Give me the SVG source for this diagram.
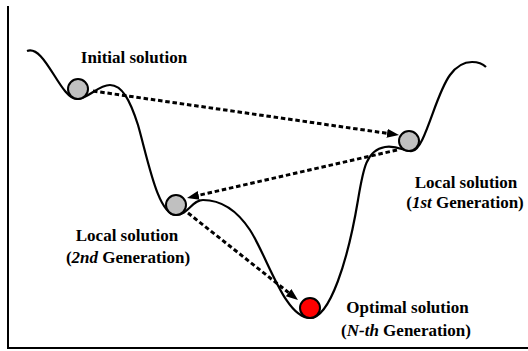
<svg xmlns="http://www.w3.org/2000/svg" width="528" height="351" viewBox="0 0 528 351">
  <style>
    .lbl { font-family: "Liberation Serif", "Times New Roman", serif; font-size: 17px; font-weight: bold; fill: #000; text-anchor: middle; }
    .it { font-style: italic; }
    .ball { stroke: #000; stroke-width: 2; }
    .gray { fill: #c0c0c0; }
    .red { fill: #ff0000; }
    .curve { fill: none; stroke: #000; stroke-width: 2.2; }
    .frame { fill: none; stroke: #000; stroke-width: 2; }
    .conn { fill: none; stroke: #000; stroke-width: 3; stroke-dasharray: 4.5 2.8; }
  </style>
  <defs>
    <marker id="ah" markerUnits="userSpaceOnUse" markerWidth="13" markerHeight="10" refX="0" refY="4.5" orient="auto">
      <path d="M0,0 L12,4.5 L0,9 Z" fill="#000"/>
    </marker>
  </defs>

  <g id="frame">
    <path class="frame" d="M8,6 L8,348 L528,348"/>
  </g>

  <g id="landscape">
    <path class="curve" d="M27,51 C45,44 60,99 77,99 C88,99 98,85 110,85 C122,85 130,100 138,125 C148,160 158,215 176,215 C188,215 192,200 203,200 C222,200 238,212 250,230 C268,258 285,318 310,318 C330,318 348,260 358,200 C363,170 366,150 385,147 C398,145 405,152 412,151 C425,150 435,95 450,75 C458,64 466,62 472,62 C478,62 483,64 486,67"/>
  </g>

  <g id="connectors">
    <path class="conn" d="M93,91 L387.1,133.3" marker-end="url(#ah)"/>
    <path class="conn" d="M397,150 L198.7,195.3" marker-end="url(#ah)"/>
    <path class="conn" d="M188,213 L288.6,292.6" marker-end="url(#ah)"/>
  </g>

  <g id="node-initial">
    <circle class="ball gray" cx="78" cy="89" r="10"/>
    <text class="lbl" x="134" y="62.5">Initial solution</text>
  </g>

  <g id="node-local1">
    <circle class="ball gray" cx="409" cy="141" r="10"/>
    <text class="lbl" x="466" y="187.5">Local solution</text>
    <text class="lbl" x="465" y="207.5">(<tspan class="it">1st</tspan> Generation)</text>
  </g>

  <g id="node-local2">
    <circle class="ball gray" cx="176" cy="205" r="10"/>
    <text class="lbl" x="127" y="240.5">Local solution</text>
    <text class="lbl" x="128" y="262.5">(<tspan class="it">2nd</tspan> Generation)</text>
  </g>

  <g id="node-optimal">
    <circle class="ball red" cx="310" cy="308" r="10"/>
    <text class="lbl" x="407.5" y="313">Optimal solution</text>
    <text class="lbl" x="406" y="335.5">(<tspan class="it">N-th</tspan> Generation)</text>
  </g>
</svg>
